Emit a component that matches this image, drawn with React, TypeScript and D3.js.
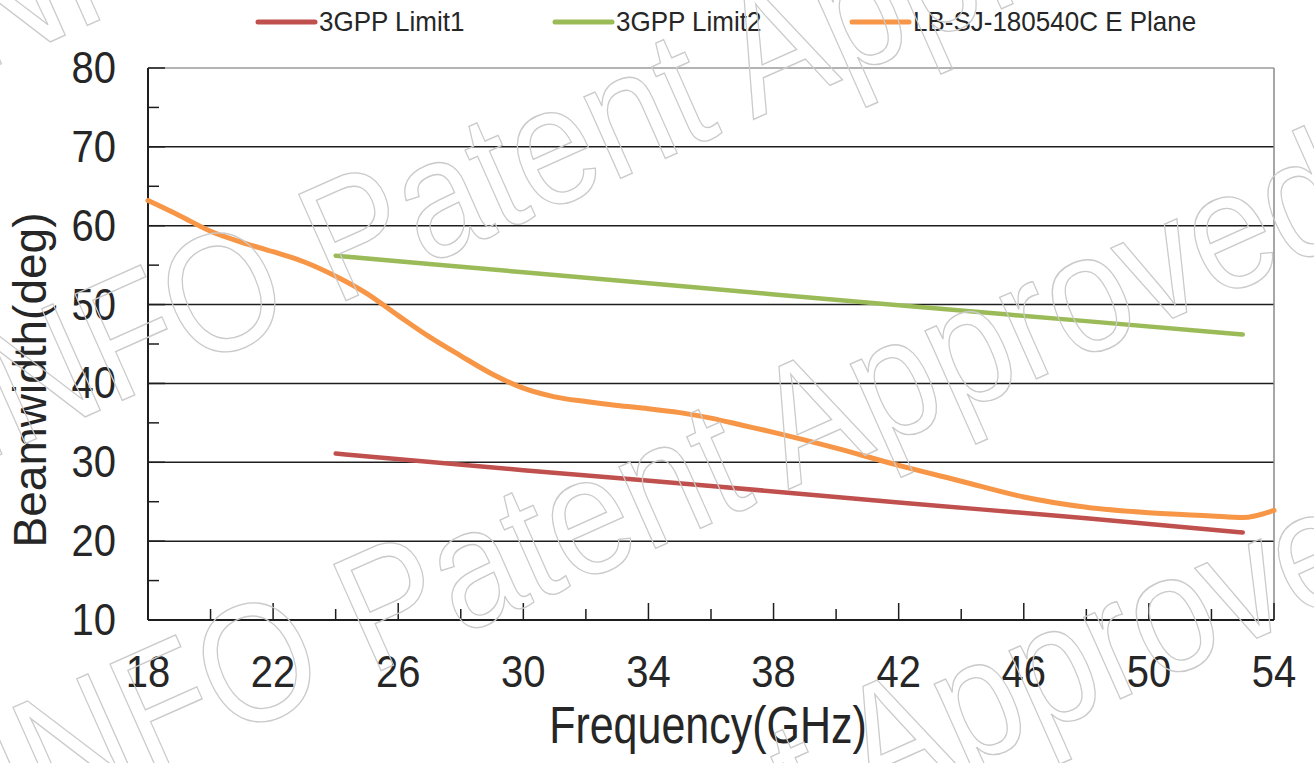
import React from "react";
import * as d3 from "d3";

// Frequency (GHz) / beamwidth (deg) readings
const limit1Freq = [24, 30, 36, 42, 48, 53];
const limit1Vals = [31.1, 29.0, 27.0, 24.9, 22.9, 21.1];

const limit2Freq = [24, 30, 36, 42, 48, 53];
const limit2Vals = [56.2, 54.1, 52.0, 49.9, 47.9, 46.2];

const ePlaneFreq = [18, 19, 20, 21, 22, 23, 24, 25, 26, 27, 28, 29, 30, 31, 32, 33, 34, 35, 36, 37, 38, 40, 42, 44, 46, 48, 50, 52, 53, 54];
const ePlaneVals = [63.2, 61.3, 59.3, 57.9, 56.7, 55.4, 53.6, 51.4, 48.6, 45.9, 43.5, 41.2, 39.4, 38.3, 37.7, 37.2, 36.8, 36.3, 35.6, 34.7, 33.8, 31.8, 29.6, 27.6, 25.6, 24.3, 23.6, 23.2, 23.0, 23.9];

const seriesNames = ["3GPP Limit1", "3GPP Limit2", "LB-SJ-180540C E Plane"];
const seriesColors = ["#c0504d", "#9bbb59", "#f79646"];

const xTickLabels = [18, 22, 26, 30, 34, 38, 42, 46, 50, 54];
const yTickLabels = [10, 20, 30, 40, 50, 60, 70, 80];

const W = 1314;
const H = 763;
const FONT = "'Liberation Sans', Arial, sans-serif";
const TXT = "#262626";

export default function App() {
  const x = d3.scaleLinear().domain([18, 54]).range([148, 1274]);
  const y = d3.scaleLinear().domain([10, 80]).range([620, 68]);

  const line = d3
    .line<[number, number]>()
    .x((d) => x(d[0]))
    .y((d) => y(d[1]))
    .curve(d3.curveMonotoneX);

  const series = [
    limit1Freq.map((f, i) => [f, limit1Vals[i]] as [number, number]),
    limit2Freq.map((f, i) => [f, limit2Vals[i]] as [number, number]),
    ePlaneFreq.map((f, i) => [f, ePlaneVals[i]] as [number, number]),
  ];

  const xMinor = d3.range(18, 54.01, 2);
  const yMinor = d3.range(15, 80, 10);

  // legend layout
  const legendX = [258, 555, 852];

  // watermark rows (start of "INFO Patent Approved")
  const wmRows = [
    [-58, 90],
    [-23, 465],
    [12, 835],
    [96, 1155],
  ];

  return (
    <svg
      width={W}
      height={H}
      style={{ position: "absolute", left: 0, top: 0, background: "#fff" }}
      fontFamily={FONT}
    >
      <rect width={W} height={H} fill="#fff" />

      {/* grid lines */}
      {yTickLabels
        .filter((v) => v > 10 && v < 80)
        .map((v) => (
          <line key={"g" + v} x1={x(18)} x2={x(54)} y1={y(v)} y2={y(v)} stroke="#1e1e1e" strokeWidth={1.5} />
        ))}

      {/* top / right border */}
      <line x1={x(18)} x2={x(54)} y1={y(80)} y2={y(80)} stroke="#9a9a9a" strokeWidth={1.5} />
      <line x1={x(54)} x2={x(54)} y1={y(80)} y2={y(10)} stroke="#8a8a8a" strokeWidth={1.5} />

      {/* y axis */}
      <line x1={x(18)} x2={x(18)} y1={y(80)} y2={y(10)} stroke="#1e1e1e" strokeWidth={2} />
      {yTickLabels.map((v) => (
        <line key={"yt" + v} x1={x(18)} x2={x(18) + 17} y1={y(v)} y2={y(v)} stroke="#1e1e1e" strokeWidth={1.5} />
      ))}
      {yMinor.map((v) => (
        <line key={"ym" + v} x1={x(18)} x2={x(18) + 11} y1={y(v)} y2={y(v)} stroke="#1e1e1e" strokeWidth={1.5} />
      ))}
      {yTickLabels.map((v) => (
        <text
          key={"yl" + v}
          transform={`translate(116,${y(v) + 15}) scale(1,1.12)`}
          textAnchor="end"
          fontSize={40}
          fill={TXT}
        >
          {v}
        </text>
      ))}

      {/* x axis */}
      <line x1={x(18)} x2={x(54)} y1={y(10)} y2={y(10)} stroke="#1e1e1e" strokeWidth={2} />
      {xMinor.map((f) => {
        const major = xTickLabels.includes(f);
        return (
          <line
            key={"xt" + f}
            x1={x(f)}
            x2={x(f)}
            y1={y(10)}
            y2={y(10) - (major ? 17 : 11)}
            stroke="#1e1e1e"
            strokeWidth={1.5}
          />
        );
      })}
      {xTickLabels.map((f) => (
        <text
          key={"xl" + f}
          transform={`translate(${x(f)},687) scale(1,1.12)`}
          textAnchor="middle"
          fontSize={40}
          fill={TXT}
        >
          {f}
        </text>
      ))}

      {/* axis titles */}
      <text transform="translate(708,743) scale(1,1.2)" textAnchor="middle" fontSize={43} fill={TXT}>
        Frequency(GHz)
      </text>
      <text transform="translate(46,380) rotate(-90)" textAnchor="middle" fontSize={46} fill={TXT}>
        Beamwidth(deg)
      </text>

      {/* series */}
      {series.map((s, i) => (
        <path
          key={"s" + i}
          d={line(s) || ""}
          fill="none"
          stroke={seriesColors[i]}
          strokeWidth={i === 2 ? 5 : 4.5}
          strokeLinecap="round"
          strokeLinejoin="round"
        />
      ))}

      {/* legend */}
      {seriesNames.map((name, i) => (
        <g key={"lg" + i}>
          <line
            x1={legendX[i]}
            x2={legendX[i] + 57}
            y1={22}
            y2={22}
            stroke={seriesColors[i]}
            strokeWidth={5}
            strokeLinecap="round"
          />
          <text transform={`translate(${legendX[i] + 61},31) scale(1,1.08)`} fontSize={26} fill={TXT}>
            {name}
          </text>
        </g>
      ))}

      {/* watermark */}
      {wmRows.map(([sx, sy], i) => (
        <text
          key={"wm" + i}
          transform={`translate(${sx},${sy}) rotate(-24) scale(1,1.15)`}
          fontSize={147}
          fill="none"
          stroke="#cacaca"
          strokeWidth={1.2}
        >
          INFO Patent Approved
        </text>
      ))}
    </svg>
  );
}
